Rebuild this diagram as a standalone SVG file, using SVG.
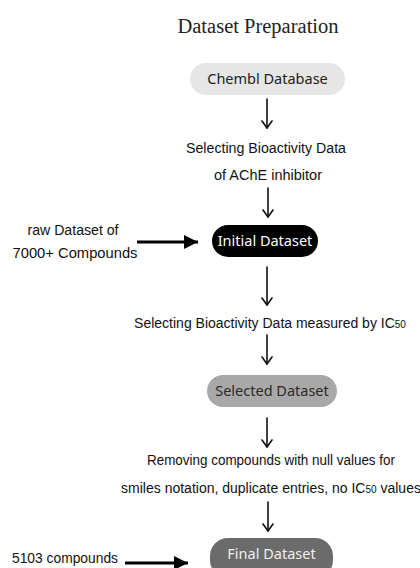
<svg xmlns="http://www.w3.org/2000/svg" width="420" height="568" viewBox="0 0 420 568">
  <style>
    .title { font-family: "Liberation Serif", "DejaVu Serif", serif; font-size: 20.5px; fill: #222; }
    .pill-text { font-family: "Noto Sans", "Open Sans", sans-serif; font-size: 14.5px; }
    .hand { font-family: "Liberation Sans", "DejaVu Sans", sans-serif; font-size: 14px; fill: #111; }
    .sub { font-size: 10px; }
    .thin { fill: none; stroke: #111; stroke-width: 1.6; stroke-linecap: round; }
    .thick { stroke: #000; stroke-width: 3; }
  </style>
  <defs>
    <marker id="vhead" viewBox="0 0 10 12" refX="8" refY="6" markerWidth="10" markerHeight="12" markerUnits="userSpaceOnUse" orient="auto">
      <path d="M1 1 L8 6 L1 11" fill="none" stroke="#111" stroke-width="1.6" stroke-linecap="round" stroke-linejoin="round"/>
    </marker>
    <marker id="solid" viewBox="0 0 14 14" refX="14" refY="7" markerWidth="14" markerHeight="14" markerUnits="userSpaceOnUse" orient="auto">
      <path d="M0 0 L14 7 L0 14 Z" fill="#000"/>
    </marker>
  </defs>

  <rect width="420" height="568" fill="#fff"/>

  <text class="title" x="258" y="33" text-anchor="middle">Dataset Preparation</text>

  <g id="chembl">
    <rect x="190" y="63" width="155" height="32" rx="16" fill="#e6e6e6"/>
    <text class="pill-text" x="267.5" y="84" text-anchor="middle" fill="#222">Chembl Database</text>
  </g>

  <g id="step-ache">
    <text class="hand" x="266" y="153" text-anchor="middle" textLength="160" lengthAdjust="spacingAndGlyphs">Selecting Bioactivity Data</text>
    <text class="hand" x="268" y="180" text-anchor="middle" textLength="108" lengthAdjust="spacingAndGlyphs">of AChE inhibitor</text>
  </g>

  <g id="raw-note">
    <text class="hand" x="73" y="235" text-anchor="middle" textLength="91" lengthAdjust="spacingAndGlyphs">raw Dataset of</text>
    <text class="hand" x="75" y="258" text-anchor="middle" textLength="125" lengthAdjust="spacingAndGlyphs">7000+ Compounds</text>
  </g>

  <g id="initial">
    <rect x="212" y="225" width="106" height="32" rx="16" fill="#000"/>
    <text class="pill-text" x="265" y="246" text-anchor="middle" fill="#fff">Initial Dataset</text>
  </g>

  <g id="step-ic50">
    <text class="hand" x="270" y="328" text-anchor="middle">Selecting Bioactivity Data measured by IC<tspan class="sub">50</tspan></text>
  </g>

  <g id="selected">
    <rect x="207" y="375" width="130" height="32" rx="16" fill="#a8a8a8"/>
    <text class="pill-text" x="272" y="396" text-anchor="middle" fill="#2a2a2a">Selected Dataset</text>
  </g>

  <g id="step-clean">
    <text class="hand" x="271" y="465" text-anchor="middle" textLength="248" lengthAdjust="spacingAndGlyphs">Removing compounds with null values for</text>
    <text class="hand" x="271" y="493" text-anchor="middle" font-size="13.6">smiles notation, duplicate entries, no IC<tspan class="sub">50</tspan> values</text>
  </g>

  <g id="count-note">
    <text class="hand" x="65" y="563" text-anchor="middle" textLength="106" lengthAdjust="spacingAndGlyphs">5103 compounds</text>
  </g>

  <g id="final">
    <rect x="210" y="538" width="123" height="40" rx="18" fill="#6b6b6b"/>
    <text class="pill-text" x="271.5" y="559" text-anchor="middle" fill="#f0f0f0">Final Dataset</text>
  </g>

  <g id="connectors">
    <line class="thin" x1="267" y1="99" x2="267" y2="128" marker-end="url(#vhead)"/>
    <line class="thin" x1="268" y1="188" x2="268" y2="217" marker-end="url(#vhead)"/>
    <line class="thin" x1="267" y1="267" x2="267" y2="305" marker-end="url(#vhead)"/>
    <line class="thin" x1="267" y1="335" x2="267" y2="364" marker-end="url(#vhead)"/>
    <line class="thin" x1="267" y1="418" x2="267" y2="447" marker-end="url(#vhead)"/>
    <line class="thin" x1="268" y1="502" x2="268" y2="531" marker-end="url(#vhead)"/>
    <line class="thick" x1="137" y1="242" x2="198" y2="242" marker-end="url(#solid)"/>
    <line class="thick" x1="125" y1="563" x2="188" y2="563" marker-end="url(#solid)"/>
  </g>
</svg>
